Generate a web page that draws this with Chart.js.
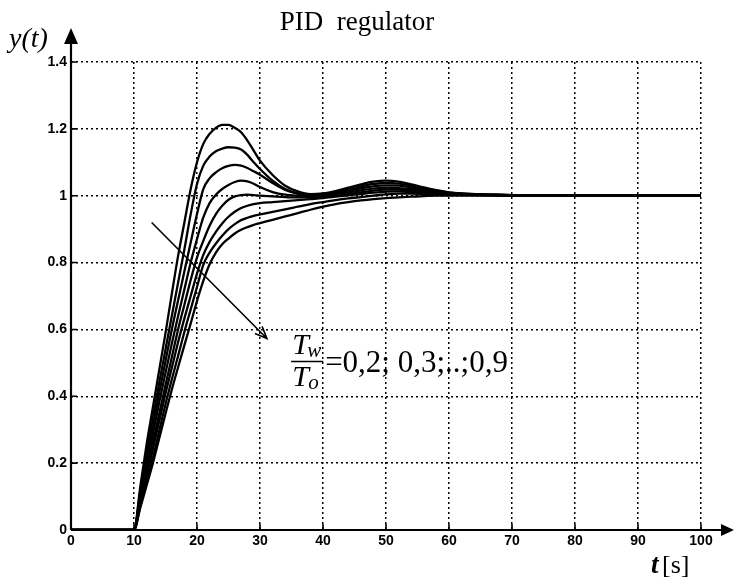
<!DOCTYPE html>
<html>
<head>
<meta charset="utf-8">
<script src="https://cdn.jsdelivr.net/npm/chart.js@4/dist/chart.umd.min.js"></script>
<style>
  body { margin: 0; background: #fff; }
</style>
</head>
<body>
<canvas id="myChart" width="734" height="579"></canvas>
<script>
// time samples [s]
const time = [0, 10, 11, 12, 13, 14, 15, 16, 17, 18, 19, 20, 21, 22, 23, 24, 25, 26, 27, 28, 29, 30,
    32, 34, 36, 38, 40, 42, 44, 46, 48, 50, 52, 54, 56, 58, 60, 70, 80, 90, 100];

// step responses, Tw/To = 0,2 ... 0,9
const y02 = [0, 0, 0.13, 0.256, 0.367, 0.478, 0.589, 0.706, 0.82, 0.92, 1.02, 1.10, 1.155, 1.185, 1.203, 1.212, 1.212, 1.203, 1.19, 1.165, 1.135, 1.105,
    1.062, 1.03, 1.013, 1.005, 1.007, 1.014, 1.024, 1.034, 1.042, 1.045, 1.042, 1.034, 1.025, 1.017, 1.01, 1.002, 1, 1, 1];
const y03 = [0, 0, 0.118, 0.232, 0.337, 0.44, 0.54, 0.64, 0.74, 0.84, 0.945, 1.035, 1.09, 1.117, 1.133, 1.141, 1.145, 1.144, 1.138, 1.122, 1.10, 1.08,
    1.045, 1.02, 1.007, 1.003, 1.005, 1.011, 1.019, 1.028, 1.035, 1.038, 1.036, 1.03, 1.022, 1.015, 1.009, 1.002, 1, 1, 1];
const y04 = [0, 0, 0.105, 0.21, 0.31, 0.41, 0.505, 0.60, 0.687, 0.774, 0.86, 0.945, 1.02, 1.052, 1.07, 1.082, 1.089, 1.092, 1.09, 1.083, 1.073, 1.063,
    1.038, 1.017, 1.006, 1.002, 1.003, 1.008, 1.015, 1.022, 1.028, 1.031, 1.03, 1.025, 1.019, 1.013, 1.008, 1.002, 1, 1, 1];
const y05 = [0, 0, 0.095, 0.19, 0.286, 0.381, 0.47, 0.557, 0.64, 0.72, 0.80, 0.87, 0.935, 0.978, 1.003, 1.02, 1.032, 1.041, 1.045, 1.043, 1.036, 1.026,
    1.011, 1.003, 1.0, 0.999, 1.001, 1.005, 1.01, 1.016, 1.021, 1.024, 1.023, 1.02, 1.015, 1.011, 1.007, 1.002, 1, 1, 1];
const y06 = [0, 0, 0.087, 0.174, 0.26, 0.348, 0.433, 0.517, 0.60, 0.674, 0.748, 0.815, 0.865, 0.91, 0.945, 0.97, 0.988, 0.998, 1.002, 1.003, 1.002, 1.0,
    0.998, 0.996, 0.995, 0.995, 0.997, 1.0, 1.005, 1.01, 1.015, 1.018, 1.018, 1.015, 1.012, 1.009, 1.006, 1.001, 1, 1, 1];
const y07 = [0, 0, 0.08, 0.16, 0.242, 0.325, 0.408, 0.485, 0.562, 0.633, 0.70, 0.767, 0.823, 0.862, 0.892, 0.917, 0.937, 0.952, 0.963, 0.970, 0.975, 0.978,
    0.981, 0.984, 0.987, 0.99, 0.993, 0.997, 1.001, 1.005, 1.009, 1.012, 1.013, 1.011, 1.009, 1.007, 1.005, 1.001, 1, 1, 1];
const y08 = [0, 0, 0.071, 0.143, 0.216, 0.296, 0.376, 0.45, 0.521, 0.593, 0.66, 0.727, 0.793, 0.83, 0.857, 0.88, 0.9, 0.915, 0.927, 0.934, 0.94, 0.944,
    0.952, 0.959, 0.967, 0.975, 0.981, 0.987, 0.992, 0.996, 1.0, 1.004, 1.006, 1.006, 1.005, 1.004, 1.003, 1.001, 1, 1, 1];
const y09 = [0, 0, 0.067, 0.133, 0.2, 0.274, 0.348, 0.42, 0.487, 0.553, 0.618, 0.685, 0.745, 0.795, 0.83, 0.855, 0.872, 0.887, 0.898, 0.906, 0.913, 0.918,
    0.928, 0.938, 0.948, 0.958, 0.967, 0.975, 0.981, 0.986, 0.99, 0.993, 0.995, 0.997, 0.999, 1.0, 1.0, 1, 1, 1, 1];

const series = [y02, y03, y04, y05, y06, y07, y08, y09];
const seriesLabels = ['0,2', '0,3', '0,4', '0,5', '0,6', '0,7', '0,8', '0,9'];

// axis ranges
const xMin = 0, xMax = 100, xStep = 10;
const yMin = 0, yMax = 1.4, yStep = 0.2;

// annotation arrow (data units) and label anchor
const arrowFrom = [12.8, 0.92];
const arrowTo = [31.1, 0.573];
const labelAt = [35.1, 0.504];

const labelFont = '"Liberation Serif", "Times New Roman", serif';

const extras = {
    id: 'extras',
    afterDraw(chart) {
        const ctx = chart.ctx;
        const xs = chart.scales.x, ys = chart.scales.y;
        const x0 = xs.getPixelForValue(xMin);
        const yb = ys.getPixelForValue(yMin);
        ctx.save();
        ctx.strokeStyle = '#000';
        ctx.fillStyle = '#000';

        // axes with arrows
        ctx.lineWidth = 2.2;
        ctx.beginPath();
        ctx.moveTo(x0, yb);
        ctx.lineTo(x0, 40);
        ctx.moveTo(x0, yb);
        ctx.lineTo(724, yb);
        ctx.stroke();
        ctx.beginPath();
        ctx.moveTo(x0, 28);
        ctx.lineTo(x0 - 7, 44);
        ctx.lineTo(x0 + 7, 44);
        ctx.closePath();
        ctx.fill();
        ctx.beginPath();
        ctx.moveTo(734, yb);
        ctx.lineTo(721, yb - 6);
        ctx.lineTo(721, yb + 6);
        ctx.closePath();
        ctx.fill();

        // inward ticks
        ctx.lineWidth = 1.6;
        ctx.beginPath();
        for (let v = xMin; v <= xMax; v += xStep) {
            const px = xs.getPixelForValue(v);
            ctx.moveTo(px, yb);
            ctx.lineTo(px, yb - 6);
        }
        for (let i = 0; i <= Math.round((yMax - yMin) / yStep); i++) {
            const py = ys.getPixelForValue(yMin + i * yStep);
            ctx.moveTo(x0, py);
            ctx.lineTo(x0 + 6, py);
        }
        ctx.stroke();

        // title and axis names
        ctx.textBaseline = 'alphabetic';
        ctx.textAlign = 'center';
        ctx.font = '27px ' + labelFont;
        ctx.fillText('PID  regulator', 357, 30);

        ctx.textAlign = 'left';
        ctx.font = 'italic 28px ' + labelFont;
        ctx.fillText('y(t)', 9, 47);

        ctx.font = 'italic bold 27px ' + labelFont;
        ctx.fillText('t', 651, 573);
        ctx.font = '26px ' + labelFont;
        ctx.fillText('[s]', 662, 573);

        // annotation arrow
        const ax1 = xs.getPixelForValue(arrowFrom[0]), ay1 = ys.getPixelForValue(arrowFrom[1]);
        const ax2 = xs.getPixelForValue(arrowTo[0]), ay2 = ys.getPixelForValue(arrowTo[1]);
        const ang = Math.atan2(ay2 - ay1, ax2 - ax1);
        ctx.lineWidth = 1.6;
        ctx.beginPath();
        ctx.moveTo(ax1, ay1);
        ctx.lineTo(ax2, ay2);
        ctx.moveTo(ax2 - 13 * Math.cos(ang - 0.4), ay2 - 13 * Math.sin(ang - 0.4));
        ctx.lineTo(ax2, ay2);
        ctx.lineTo(ax2 - 13 * Math.cos(ang + 0.4), ay2 - 13 * Math.sin(ang + 0.4));
        ctx.stroke();

        // Tw/To label
        const lx = xs.getPixelForValue(labelAt[0]);
        const ly = ys.getPixelForValue(labelAt[1]);
        ctx.font = 'italic 30px ' + labelFont;
        ctx.fillText('T', lx, ly - 8);
        ctx.fillText('T', lx, ly + 24);
        ctx.font = 'italic 21px ' + labelFont;
        ctx.fillText('w', lx + 15, ly - 5);
        ctx.fillText('o', lx + 16, ly + 27);
        ctx.lineWidth = 1.5;
        ctx.beginPath();
        ctx.moveTo(lx - 1, ly);
        ctx.lineTo(lx + 31, ly);
        ctx.stroke();
        ctx.font = '31px ' + labelFont;
        ctx.fillText('=' + seriesLabels[0] + '; ' + seriesLabels[1] + ';..;' + seriesLabels[7], lx + 33, ly + 10);

        ctx.restore();
    }
};

const datasets = series.map((s, i) => ({
    label: seriesLabels[i],
    data: s.map((v, j) => ({ x: time[j], y: v })),
    borderColor: '#000',
    borderWidth: 2.3,
    pointRadius: 0,
    fill: false,
    cubicInterpolationMode: 'monotone'
}));

const tickFont = { family: '"Liberation Sans", Arial, sans-serif', size: 14, weight: 'bold' };

window.myChart = new Chart(document.getElementById('myChart'), {
    type: 'line',
    data: { datasets: datasets },
    options: {
        responsive: false,
        animation: false,
        layout: { padding: { left: 0, top: 62, right: 33, bottom: 0 } },
        plugins: {
            legend: { display: false },
            tooltip: { enabled: false },
            title: { display: false }
        },
        scales: {
            x: {
                type: 'linear',
                min: xMin,
                max: xMax,
                ticks: { stepSize: xStep, color: '#000', font: tickFont, padding: 3 },
                grid: { color: '#000', lineWidth: 1.5, drawTicks: false },
                border: { display: false, dash: [2, 3] },
                afterFit(scale) { scale.height = 49; }
            },
            y: {
                type: 'linear',
                min: yMin,
                max: yMax,
                ticks: {
                    stepSize: yStep, color: '#000', font: tickFont, padding: 4,
                    callback: v => String(+v.toFixed(1))
                },
                grid: { color: '#000', lineWidth: 1.5, drawTicks: false },
                border: { display: false, dash: [2, 3] },
                afterFit(scale) { scale.width = 71; }
            }
        }
    },
    plugins: [extras]
});
</script>
</body>
</html>
